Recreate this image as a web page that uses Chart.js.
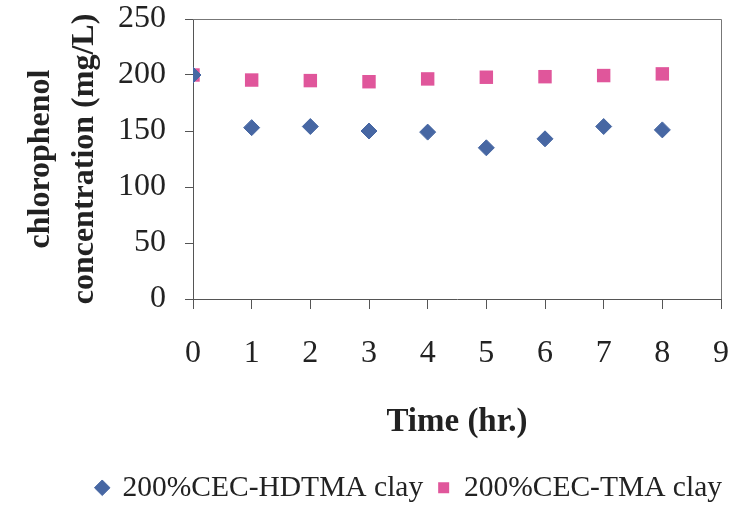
<!DOCTYPE html>
<html>
<head>
<meta charset="utf-8">
<script src="https://cdn.jsdelivr.net/npm/chart.js@4"></script>
<style>
  html, body { margin: 0; padding: 0; background: #fff; }
  #wrap { width: 737px; height: 507px; }
</style>
</head>
<body>
<div id="wrap"><canvas id="myChart"></canvas></div>
<script>
// time (hr.)
const times = [0, 1, 2, 3, 4, 5, 6, 7, 8];
const hdtma = [200, 153, 154, 150, 149, 135, 143, 154, 151];
const tma = [200, 195.5, 195, 194, 196.5, 198, 198.5, 199.5, 201];
const seriesNames = ['200%CEC-HDTMA clay', '200%CEC-TMA clay'];
const yTitle = ['chlorophenol', 'concentration (mg/L)'];
const xTitle = 'Time (hr.)';

const serif = '"Liberation Serif", "Times New Roman", serif';
const ink = '#222';

// top and right edges of the plot box
const boxPlugin = {
    id: 'box',
    afterDraw(chart) {
        const a = chart.chartArea;
        const c = chart.ctx;
        c.save();
        c.strokeStyle = '#777';
        c.lineWidth = 1;
        c.beginPath();
        c.moveTo(a.left, a.top + 0.5);
        c.lineTo(a.right + 0.5, a.top + 0.5);
        c.lineTo(a.right + 0.5, a.bottom);
        c.stroke();
        c.restore();
    }
};

const ctx = document.getElementById('myChart');

new Chart(ctx, {
    type: 'scatter',
    data: {
        datasets: [{
            label: seriesNames[0],
            data: times.map((t, i) => ({ x: t, y: hdtma[i] })),
            pointStyle: 'rectRot',
            pointRadius: 8,
            pointHoverRadius: 8,
            backgroundColor: '#4767a3',
            borderColor: '#4767a3',
            borderWidth: 1
        }, {
            label: seriesNames[1],
            data: times.map((t, i) => ({ x: t, y: tma[i] })),
            pointStyle: 'rect',
            pointRadius: 9.5,
            pointHoverRadius: 9.5,
            backgroundColor: '#e0569b',
            borderColor: '#e0569b',
            borderWidth: 0
        }]
    },
    options: {
        responsive: true,
        maintainAspectRatio: false,
        animation: false,
        layout: {
            padding: 0
        },
        scales: {
            x: {
                type: 'linear',
                min: 0,
                max: 9,
                afterFit(scale) {
                    scale.paddingLeft = 0;
                    scale.paddingRight = 16;
                },
                grid: {
                    drawOnChartArea: false,
                    drawTicks: true,
                    tickLength: 10,
                    color: '#555'
                },
                border: { display: true, color: '#555' },
                ticks: {
                    stepSize: 1,
                    padding: 25,
                    color: ink,
                    font: { size: 32, family: serif }
                },
                title: {
                    display: true,
                    text: xTitle,
                    color: ink,
                    padding: { top: 5, bottom: 16 },
                    font: { size: 33, weight: 'bold', family: serif }
                }
            },
            y: {
                min: 0,
                max: 250,
                afterFit(scale) {
                    scale.width = 193;
                    scale.paddingTop = 19;
                    scale.paddingBottom = 0;
                },
                grid: {
                    drawOnChartArea: false,
                    drawTicks: true,
                    tickLength: 8,
                    color: '#555'
                },
                border: { display: true, color: '#555' },
                ticks: {
                    stepSize: 50,
                    padding: 19,
                    color: ink,
                    font: { size: 32, family: serif }
                },
                title: {
                    display: true,
                    text: yTitle,
                    color: ink,
                    padding: { top: 18, bottom: 0 },
                    font: { size: 32, weight: 'bold', family: serif, lineHeight: 1.4 }
                }
            }
        },
        plugins: {
            legend: {
                position: 'bottom',
                align: 'end',
                maxHeight: 49,
                labels: {
                    usePointStyle: true,
                    boxWidth: 11,
                    boxHeight: 11,
                    padding: 15,
                    color: ink,
                    font: { size: 29.5, family: serif, lineHeight: 1.0 }
                }
            },
            tooltip: { enabled: false }
        }
    },
    plugins: [boxPlugin]
});
</script>
</body>
</html>
